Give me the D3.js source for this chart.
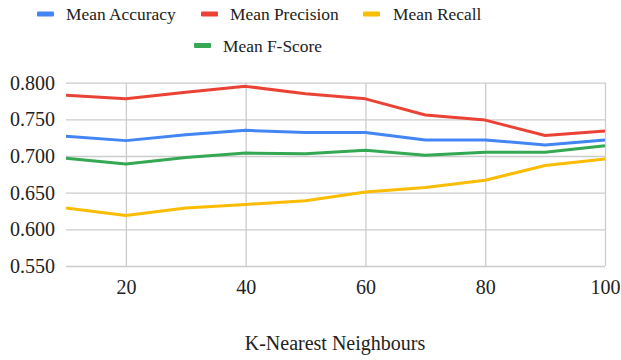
<!DOCTYPE html>
<html>
<head>
<meta charset="utf-8">
<script src="https://cdn.jsdelivr.net/npm/d3@7/dist/d3.min.js"></script>
<style>
  html, body { margin: 0; padding: 0; background: #fff; }
  svg, svg text { font-family: 'Liberation Serif', 'Times New Roman', serif !important; }
</style>
</head>
<body>
<svg id="chart" width="621" height="360"></svg>
<script>
// K values evaluated
const kValues = [10, 20, 30, 40, 50, 60, 70, 80, 90, 100];

// Mean scores per K
const meanAccuracy  = [0.727, 0.721, 0.729, 0.735, 0.732, 0.732, 0.722, 0.722, 0.715, 0.722];
const meanPrecision = [0.783, 0.778, 0.787, 0.795, 0.785, 0.778, 0.756, 0.749, 0.728, 0.734];
const meanRecall    = [0.629, 0.619, 0.629, 0.634, 0.639, 0.651, 0.657, 0.667, 0.687, 0.696];
const meanFScore    = [0.697, 0.689, 0.698, 0.704, 0.703, 0.708, 0.701, 0.705, 0.705, 0.714];

const seriesNames  = ["Mean Accuracy", "Mean Precision", "Mean Recall", "Mean F-Score"];
const seriesColors = ["#4285F4", "#EA4335", "#FBBC04", "#34A853"];

const yTicks = [0.55, 0.60, 0.65, 0.70, 0.75, 0.80];
const xTicks = [20, 40, 60, 80, 100];

const series = [meanAccuracy, meanPrecision, meanRecall, meanFScore];

const svg = d3.select("#chart");
const plot = { left: 66, right: 605, top: 82.7, bottom: 266 };
const serif = "'Liberation Serif', 'Times New Roman', serif";

const x = d3.scaleLinear().domain([10, 100]).range([plot.left, plot.right]);
const y = d3.scaleLinear().domain([0.55, 0.80]).range([plot.bottom, plot.top]);

// Horizontal gridlines and y labels
const yAxis = d3.axisLeft(y).tickValues(yTicks).tickFormat(d3.format(".3f"))
  .tickSize(-(plot.right - plot.left)).tickPadding(11);
const gy = svg.append("g").attr("transform", `translate(${plot.left},0)`).call(yAxis)
  .attr("font-family", null).attr("font-size", null);
gy.select(".domain").remove();
gy.selectAll(".tick line").attr("stroke", "#cccccc").attr("stroke-width", 1.3);
gy.selectAll(".tick text").attr("fill", "#222").style("font-size", "20px").style("font-family", serif);

// Vertical gridlines and x labels
const xAxis = d3.axisBottom(x).tickValues(xTicks).tickFormat(d3.format("d"))
  .tickSize(-(plot.bottom - plot.top)).tickPadding(14);
const gx = svg.append("g").attr("transform", `translate(0,${plot.bottom})`).call(xAxis)
  .attr("font-family", null).attr("font-size", null);
gx.select(".domain").remove();
gx.selectAll(".tick line").attr("stroke", "#cccccc").attr("stroke-width", 1.3);
gx.selectAll(".tick text").attr("fill", "#222").style("font-size", "20px").style("font-family", serif);

// Series lines
const line = d3.line().x((d, i) => x(kValues[i])).y(d => y(d));
series.forEach((vals, i) => {
  svg.append("path")
    .datum(vals)
    .attr("fill", "none")
    .attr("stroke", seriesColors[i])
    .attr("stroke-width", 3)
    .attr("stroke-linejoin", "round")
    .attr("d", line);
});

// Axis title
svg.append("text")
  .attr("x", 335).attr("y", 350)
  .attr("text-anchor", "middle")
  .style("font-size", "20px").style("font-family", serif).attr("fill", "#222")
  .text("K-Nearest Neighbours");

// Legend
const legendItems = [
  { i: 0, sx: 37,  tx: 66,  y: 20 },
  { i: 1, sx: 201, tx: 230, y: 20 },
  { i: 2, sx: 363, tx: 393, y: 20 },
  { i: 3, sx: 194, tx: 223, y: 51.5 }
];
const lg = svg.append("g");
legendItems.forEach(it => {
  lg.append("rect")
    .attr("x", it.sx).attr("y", it.y - 8.5)
    .attr("width", 17).attr("height", 5).attr("rx", 1)
    .attr("fill", seriesColors[it.i]);
  lg.append("text")
    .attr("x", it.tx).attr("y", it.y)
    .style("font-size", "17.4px").style("font-family", serif).attr("fill", "#222")
    .text(seriesNames[it.i]);
});
</script>
</body>
</html>
